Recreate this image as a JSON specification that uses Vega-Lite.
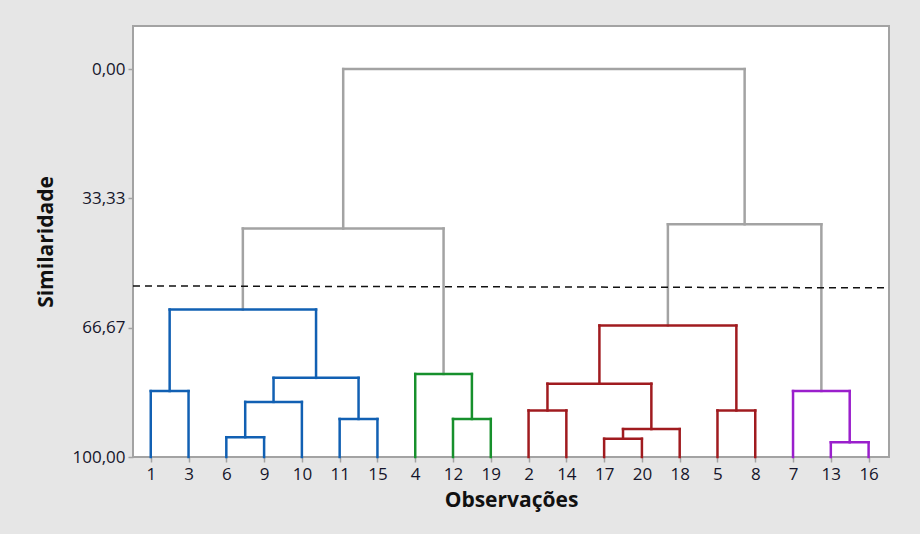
{
  "$schema": "https://vega.github.io/schema/vega-lite/v6.json",
  "width": 756,
  "height": 431,
  "autosize": {"type": "none"},
  "padding": {"left": 133, "top": 26, "right": 31, "bottom": 77},
  "background": "#e6e6e6",
  "config": {
    "view": {"fill": "white", "stroke": "#a3a3a3", "strokeWidth": 2},
    "font": "Open Sans",
    "axis": {"labelOverlap": false, "labelBound": false, "labelFlush": false},
    "axisX": {"labelOverlap": false},
    "axisQuantitative": {"labelOverlap": false}
  },
  "datasets": {
    "merges": [
      {"id": "A", "xl": 1, "xr": 2, "hl": 100, "hr": 100, "h": 83.0, "cluster": "blue"},
      {"id": "B", "xl": 3, "xr": 4, "hl": 100, "hr": 100, "h": 94.9, "cluster": "blue"},
      {"id": "C", "xl": 3.5, "xr": 5, "hl": 94.9, "hr": 100, "h": 85.8, "cluster": "blue"},
      {"id": "D", "xl": 6, "xr": 7, "hl": 100, "hr": 100, "h": 90.2, "cluster": "blue"},
      {"id": "E", "xl": 4.25, "xr": 6.5, "hl": 85.8, "hr": 90.2, "h": 79.6, "cluster": "blue"},
      {"id": "F", "xl": 1.5, "xr": 5.375, "hl": 83.0, "hr": 79.6, "h": 62.0, "cluster": "blue"},
      {"id": "G", "xl": 9, "xr": 10, "hl": 100, "hr": 100, "h": 90.2, "cluster": "green"},
      {"id": "H", "xl": 8, "xr": 9.5, "hl": 100, "hr": 90.2, "h": 78.6, "cluster": "green"},
      {"id": "I", "xl": 3.4375, "xr": 8.75, "hl": 62.0, "hr": 78.6, "h": 41.1, "cluster": "gray"},
      {"id": "J", "xl": 11, "xr": 12, "hl": 100, "hr": 100, "h": 88.0, "cluster": "red"},
      {"id": "K", "xl": 13, "xr": 14, "hl": 100, "hr": 100, "h": 95.3, "cluster": "red"},
      {"id": "L", "xl": 13.5, "xr": 15, "hl": 95.3, "hr": 100, "h": 92.8, "cluster": "red"},
      {"id": "M", "xl": 11.5, "xr": 14.25, "hl": 88.0, "hr": 92.8, "h": 81.1, "cluster": "red"},
      {"id": "N", "xl": 16, "xr": 17, "hl": 100, "hr": 100, "h": 88.0, "cluster": "red"},
      {"id": "O", "xl": 12.875, "xr": 16.5, "hl": 81.1, "hr": 88.0, "h": 66.1, "cluster": "red"},
      {"id": "P", "xl": 19, "xr": 20, "hl": 100, "hr": 100, "h": 96.2, "cluster": "purple"},
      {"id": "Q", "xl": 18, "xr": 19.5, "hl": 100, "hr": 96.2, "h": 83.0, "cluster": "purple"},
      {"id": "R", "xl": 14.6875, "xr": 18.75, "hl": 66.1, "hr": 83.0, "h": 40.0, "cluster": "gray"},
      {"id": "S", "xl": 6.09375, "xr": 16.71875, "hl": 41.1, "hr": 40.0, "h": 0, "cluster": "gray"}
    ],
    "cut": [
      {"x": 0.53, "x2": 20.54, "y": 55.9, "y2": 56.4}
    ]
  },
  "encoding": {},
  "layer": [
    {
      "data": {"name": "merges"},
      "mark": {"type": "rule", "strokeWidth": 2.5, "strokeCap": "square"},
      "encoding": {
        "x": {"field": "xl", "type": "quantitative",
              "scale": {"domain": [0.53, 20.54], "nice": false, "zero": false},
              "axis": {"title": "Observações",
                       "values": [1,2,3,4,5,6,7,8,9,10,11,12,13,14,15,16,17,18,19,20],
                       "tickCount": 20,
                       "labelExpr": "['1','3','6','9','10','11','15','4','12','19','2','14','17','20','18','5','8','7','13','16'][datum.value - 1]",
                       "labelOverlap": false, "labelBound": false, "labelFlush": false, "labelSeparation": 0,
                       "labelFont": "Open Sans", "labelFontSize": 17, "labelColor": "#15152a", "labelPadding": 4,
                       "domain": false, "grid": false, "tickColor": "#a3a3a3", "tickWidth": 1.5, "tickSize": 5,
                       "titleFont": "Open Sans", "titleFontSize": 21, "titleFontWeight": "bold", "titleColor": "#111111",
                       "titlePadding": 7}},
        "y": {"field": "hl", "type": "quantitative",
              "scale": {"domain": [-11.1, 100], "nice": false, "zero": false, "reverse": true},
              "axis": {"title": "Similaridade", "values": [0, 33.33, 66.67, 100],
                       "labelExpr": "replace(format(datum.value, '.2f'), '.', ',')",
                       "labelOverlap": false, "labelBound": false, "labelFlush": false,
                       "labelFont": "Open Sans", "labelFontSize": 17, "labelColor": "#15152a", "labelPadding": 3,
                       "domain": false, "grid": false, "tickColor": "#a3a3a3", "tickWidth": 1.5, "tickSize": 5,
                       "titleFont": "Open Sans", "titleFontSize": 21, "titleFontWeight": "bold", "titleColor": "#111111",
                       "titlePadding": 15}},
        "y2": {"field": "h"},
        "color": {"field": "cluster", "type": "nominal",
                  "scale": {"domain": ["gray", "blue", "green", "red", "purple"],
                            "range": ["#a3a3a3", "#1160b3", "#17902c", "#a01b1f", "#9a1fcc"]},
                  "legend": null}
      }
    },
    {
      "data": {"name": "merges"},
      "mark": {"type": "rule", "strokeWidth": 2.5, "strokeCap": "square"},
      "encoding": {
        "x": {"field": "xr", "type": "quantitative", "axis": {"labelOverlap": false}},
        "y": {"field": "hr", "type": "quantitative"},
        "y2": {"field": "h"},
        "color": {"field": "cluster", "type": "nominal", "legend": null}
      }
    },
    {
      "data": {"name": "merges"},
      "mark": {"type": "rule", "strokeWidth": 2.5, "strokeCap": "square"},
      "encoding": {
        "x": {"field": "xl", "type": "quantitative", "axis": {"labelOverlap": false}},
        "x2": {"field": "xr"},
        "y": {"field": "h", "type": "quantitative"},
        "color": {"field": "cluster", "type": "nominal", "legend": null}
      }
    },
    {
      "data": {"name": "cut"},
      "mark": {"type": "rule", "strokeWidth": 1.5, "strokeDash": [7, 5], "color": "#111111"},
      "encoding": {
        "x": {"field": "x", "type": "quantitative", "axis": {"labelOverlap": false}},
        "x2": {"field": "x2"},
        "y": {"field": "y", "type": "quantitative"},
        "y2": {"field": "y2"}
      }
    }
  ]
}
